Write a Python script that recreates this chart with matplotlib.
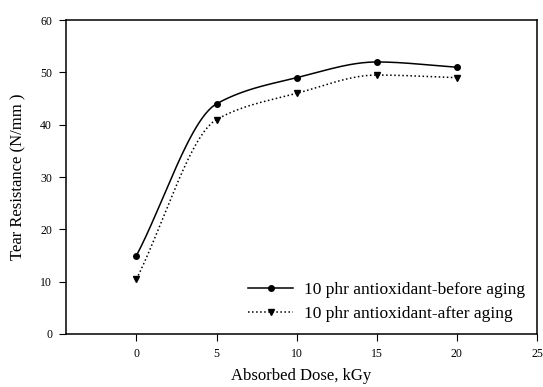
import numpy as np
import matplotlib
matplotlib.use("Agg")
import matplotlib.pyplot as plt
from matplotlib.lines import Line2D

dose = [0, 5, 10, 15, 20]
before = [15, 44, 49, 52, 51]
after = [10.5, 41, 46, 49.5, 49]
xticks = [0, 5, 10, 15, 20, 25]
yticks = [0, 10, 20, 30, 40, 50, 60]

def pchip(x, y, n=200):
    x = np.asarray(x, float); y = np.asarray(y, float)
    h = np.diff(x); d = np.diff(y) / h
    m = np.zeros_like(y)
    for k in range(1, len(x) - 1):
        if d[k-1] * d[k] > 0:
            w1 = 2*h[k] + h[k-1]; w2 = h[k] + 2*h[k-1]
            m[k] = (w1 + w2) / (w1/d[k-1] + w2/d[k])
    m[0] = d[0]; m[-1] = d[-1]
    xs = np.linspace(x[0], x[-1], n)
    idx = np.clip(np.searchsorted(x, xs) - 1, 0, len(x) - 2)
    t = (xs - x[idx]) / h[idx]
    h00 = 2*t**3 - 3*t**2 + 1; h10 = t**3 - 2*t**2 + t
    h01 = -2*t**3 + 3*t**2; h11 = t**3 - t**2
    ys = h00*y[idx] + h10*h[idx]*m[idx] + h01*y[idx+1] + h11*h[idx]*m[idx+1]
    return xs, ys

plt.rcParams['font.family'] = ['Liberation Serif', 'DejaVu Serif']
fig = plt.figure(figsize=(5.43, 3.87), dpi=100)
ax = fig.add_axes([0.1215, 0.137, 0.8675, 0.811])

xs, ys = pchip(dose, before)
ax.plot(xs, ys, color='black', lw=1.1, ls='-')
ax.plot(dose, before, 'o', color='black', ms=4)
xs2, ys2 = pchip(dose, after)
ax.plot(xs2, ys2, color='black', lw=1.1, ls=':')
ax.plot(dose, after, 'v', color='black', ms=5)

h1 = Line2D([], [], color='black', lw=1.1, ls='-', marker='o', ms=4)
h2 = Line2D([], [], color='black', lw=1.1, ls=':', marker='v', ms=5)
ax.legend([h1, h2], ['10 phr antioxidant-before aging', '10 phr antioxidant-after aging'],
          loc='lower right', frameon=False, fontsize=12.5, handlelength=2.6,
          handletextpad=0.6, bbox_to_anchor=(1.0, 0.0), labelspacing=0.45,
          borderpad=0.2)

ax.set_xlim(-4.4, 25)
ax.set_ylim(0, 60)
ax.set_xticks(xticks)
ax.set_yticks(yticks)
ax.tick_params(direction='out', labelsize=8.5, length=5, pad=5)
ax.set_xlabel('Absorbed Dose, kGy', fontsize=12, labelpad=6)
ax.set_ylabel('Tear Resistance (N/mm )', fontsize=12, labelpad=10)
for s in ax.spines.values():
    s.set_linewidth(1.1)
fig.savefig('out.png', dpi=100)
